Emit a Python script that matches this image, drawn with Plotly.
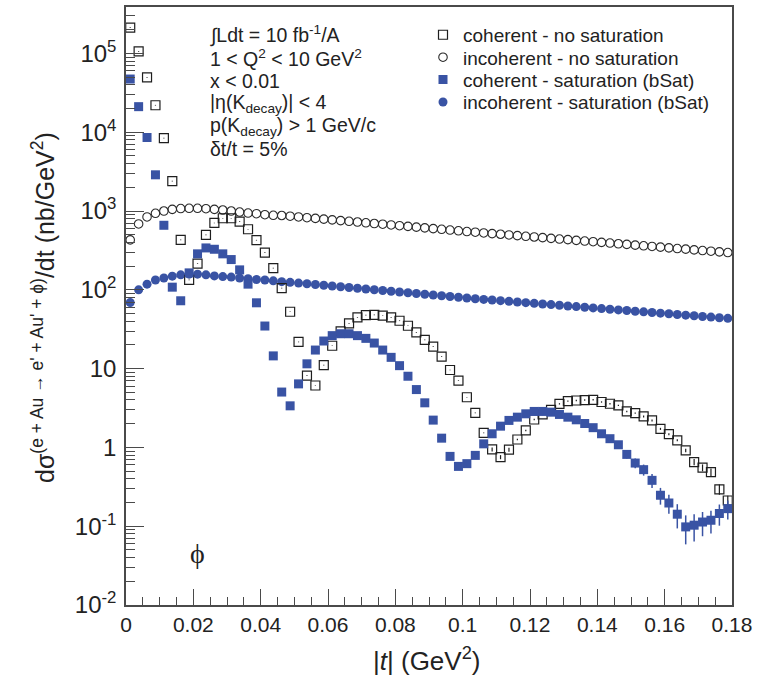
import plotly.graph_objects as go

# ---------------- data ----------------
t_bins = [0.00125, 0.00375, 0.00625, 0.00875, 0.01125, 0.01375, 0.01625, 0.01875,
          0.02125, 0.02375, 0.02625, 0.02875, 0.03125, 0.03375, 0.03625, 0.03875,
          0.04125, 0.04375, 0.04625, 0.04875, 0.05125, 0.05375, 0.05625, 0.05875,
          0.06125, 0.06375, 0.06625, 0.06875, 0.07125, 0.07375, 0.07625, 0.07875,
          0.08125, 0.08375, 0.08625, 0.08875, 0.09125, 0.09375, 0.09625, 0.09875,
          0.10125, 0.10375, 0.10625, 0.10875, 0.11125, 0.11375, 0.11625, 0.11875,
          0.12125, 0.12375, 0.12625, 0.12875, 0.13125, 0.13375, 0.13625, 0.13875,
          0.14125, 0.14375, 0.14625, 0.14875, 0.15125, 0.15375, 0.15625, 0.15875,
          0.16125, 0.16375, 0.16625, 0.16875, 0.17125, 0.17375, 0.17625, 0.17875]

coherent_nosat = [213000, 106000, 49700, 22000, 8400, 2400,
                  430, 134, 215, 497, 705, 809, 809, 732, 587, 426, 297, 188, 105, 52.7, 21.8, 8.15, 6.1,
                  11.1, 19.5, 29.7, 37.4, 44.6, 47.8, 48.2, 46.9, 44.6, 40.5, 35.0, 28.8, 23.1, 19.0,
                  14.2, 9.6, 7.05, 4.33, 2.75,
                  1.53, 0.944, 0.753, 0.935, 1.26, 1.64, 2.26, 2.62, 3.0, 3.57, 3.86, 3.94, 3.99, 4.02,
                  3.77, 3.58, 3.42, 2.86, 2.72, 2.47, 2.20, 1.72, 1.47, 1.23, 0.916, 0.652, 0.553, 0.487,
                  0.294, 0.212]
coherent_nosat_relerr = [0.01] * 43 + [0.06, 0.06, 0.06] + [0.02] * 15 + [0.03] * 5 + \
                        [0.05, 0.09, 0.10, 0.11, 0.15, 0.15]

incoherent_nosat = [430, 685, 840, 935, 1000, 1050, 1075, 1082, 1082, 1070,
                    1050, 1030, 1000, 970, 943, 924, 898, 883, 877, 859,
                    841, 823, 806, 789, 772, 756, 740, 725, 709, 694,
                    680, 665, 651, 638, 624, 611, 598, 586, 573, 561,
                    549, 538, 527, 517, 507, 497, 487, 478, 468, 459,
                    450, 441, 433, 424, 416, 408, 400, 392, 384, 377,
                    369, 362, 355, 348, 341, 334, 328, 321, 315, 309,
                    303, 297]

coherent_sat = [47300, 21100, 8570, 2880, 659, 108, 72.6, 164, 286, 340,
                327, 286, 242, 179, 118, 68.4, 34.7, 14.5, 5.04, 3.37,
                6.40, 11.5, 17.2, 22.4, 26.2, 27.7, 27.7, 26.2, 24.2, 21.1,
                17.2, 13.9, 10.9, 8.0, 5.42, 3.68, 2.22, 1.31, 0.769, 0.574,
                0.622, 0.792, 1.11, 1.49, 1.86, 2.20, 2.42, 2.67, 2.86, 2.86,
                2.80, 2.62, 2.42, 2.24, 2.01, 1.78, 1.49, 1.29, 1.08, 0.815,
                0.633, 0.522, 0.382, 0.247, 0.197, 0.142, 0.098, 0.103, 0.113, 0.119,
                0.145, 0.167]
coherent_sat_relerr = [0.02] * 38 + [0.05] * 4 + [0.02] * 14 + \
                      [0.06, 0.08, 0.09, 0.11, 0.14, 0.16, 0.20, 0.24, 0.27, 0.34,
                       0.40, 0.38, 0.34, 0.32, 0.30, 0.27]

incoherent_sat = [69, 100, 118, 133, 141, 149, 155, 158, 158, 155,
                  150, 147, 145, 141, 138, 135, 133, 130, 127, 124.5,
                  121.8, 119.2, 116.6, 114.1, 111.6, 109.2, 106.9, 104.6, 102.3, 100.1,
                  97.9, 95.8, 93.8, 91.7, 89.8, 87.8, 85.9, 84.1, 82.3, 80.5,
                  78.8, 77.1, 75.6, 74.2, 72.8, 71.4, 70.0, 68.7, 67.4, 66.1,
                  64.9, 63.6, 62.4, 61.2, 60.1, 58.9, 57.8, 56.7, 55.6, 54.6,
                  53.5, 52.5, 51.5, 50.5, 49.6, 48.6, 47.7, 46.8, 45.9, 45.1,
                  44.2, 43.4]

x_tickvals = [0, 0.02, 0.04, 0.06, 0.08, 0.1, 0.12, 0.14, 0.16, 0.18]
x_ticktext = ["0", "0.02", "0.04", "0.06", "0.08", "0.1", "0.12", "0.14", "0.16", "0.18"]
y_tickvals = [0.01, 0.1, 1, 10, 100, 1000, 1e4, 1e5]
y_ticktext = ["10<sup>-2</sup>", "10<sup>-1</sup>", "1", "10", "10<sup>2</sup>",
              "10<sup>3</sup>", "10<sup>4</sup>", "10<sup>5</sup>"]
y_minor = [m * 10 ** e for e in range(-2, 6) for m in range(2, 10)]

series_names = ["coherent - no saturation", "incoherent - no saturation",
                "coherent - saturation (bSat)", "incoherent - saturation (bSat)"]

info_lines = ["∫Ldt = 10 fb<sup>-1</sup>/A",
              "1 &lt; Q<sup>2</sup> &lt; 10 GeV<sup>2</sup>",
              "x &lt; 0.01",
              "|η(K<sub>decay</sub>)| &lt; 4",
              "p(K<sub>decay</sub>) &gt; 1 GeV/c",
              "δt/t = 5%"]

# ---------------- styling ----------------
BLUE = "#3953a4"
DARK = "#1e1e1e"
AXIS = "#4a4a4a"
FONT = "Liberation Sans"

L, R, T, B = 126, 26, 5, 73
W, H = 758, 678
PW, PH = W - L - R, H - T - B


def px_x(px):
    return (px - L) / PW


def px_y(py):
    return (H - B - py) / PH


fig = go.Figure()

fig.add_trace(go.Scatter(
    x=t_bins, y=incoherent_nosat, mode="markers", name=series_names[1], legend="legend2",
    marker=dict(symbol="circle-open", size=8.5, color="#2a2a2a", line=dict(width=1.1, color="#2a2a2a"))))
fig.add_trace(go.Scatter(
    x=t_bins, y=incoherent_sat, mode="markers", name=series_names[3], legend="legend4",
    marker=dict(symbol="circle", size=9, color=BLUE, line=dict(width=0))))
fig.add_trace(go.Scatter(
    x=t_bins, y=coherent_nosat, mode="markers", name=series_names[0], legend="legend",
    error_y=dict(type="data", array=[v * r for v, r in zip(coherent_nosat, coherent_nosat_relerr)],
                 color=DARK, thickness=1.2, width=0),
    marker=dict(symbol="square-open", size=9, color=DARK, line=dict(width=1.2, color=DARK))))
fig.add_trace(go.Scatter(
    x=t_bins, y=coherent_sat, mode="markers", name=series_names[2], legend="legend3",
    error_y=dict(type="data", array=[v * r for v, r in zip(coherent_sat, coherent_sat_relerr)],
                 color=BLUE, thickness=1.5, width=0),
    marker=dict(symbol="square", size=9, color=BLUE, line=dict(width=0))))

legend_rows = [33, 55.5, 78, 100.5]
leg_common = dict(xanchor="left", yanchor="middle", bgcolor="rgba(0,0,0,0)", borderwidth=0,
                  font=dict(family=FONT, size=19, color="#222"), itemwidth=30)
legends = {}
for k, key in enumerate(["legend", "legend2", "legend3", "legend4"]):
    legends[key] = dict(x=px_x(423), y=px_y(legend_rows[k]), **leg_common)

annotations = []
info_y = [33, 56, 79, 102, 125, 147]
for txt, yy in zip(info_lines, info_y):
    annotations.append(dict(text=txt, x=px_x(208), y=px_y(yy), xref="paper", yref="paper",
                            xanchor="left", yanchor="middle", showarrow=False, align="left",
                            font=dict(family=FONT, size=19.5, color="#222")))
annotations.append(dict(text="ϕ", x=px_x(197), y=px_y(553), xref="paper", yref="paper",
                        xanchor="center", yanchor="middle", showarrow=False,
                        font=dict(family="Liberation Serif", size=28, color="#222")))
annotations.append(dict(text="dσ<sup>(e + Au → e' + Au' + ϕ)</sup>/dt (nb/GeV<sup>2</sup>)",
                        x=px_x(43), y=px_y(307), xref="paper", yref="paper", textangle=-90,
                        xanchor="center", yanchor="middle", showarrow=False,
                        font=dict(family=FONT, size=25, color="#222")))
annotations.append(dict(text="|<i>t</i>| (GeV<sup>2</sup>)",
                        x=px_x(426), y=px_y(660), xref="paper", yref="paper",
                        xanchor="center", yanchor="middle", showarrow=False,
                        font=dict(family=FONT, size=26, color="#222")))

fig.update_layout(
    width=W, height=H, margin=dict(l=L, r=R, t=T, b=B, pad=0),
    paper_bgcolor="white", plot_bgcolor="white",
    showlegend=True, annotations=annotations, **legends,
    xaxis=dict(range=[0, 0.18], showline=True, linecolor=AXIS, linewidth=1.5, mirror=True,
               showgrid=False, zeroline=False, ticks="inside", ticklen=16, tickwidth=1.2,
               tickcolor=AXIS, tickvals=x_tickvals, ticktext=x_ticktext, ticklabelstandoff=0,
               tickfont=dict(family=FONT, size=21, color="#222"),
               minor=dict(ticks="inside", ticklen=8, tickwidth=1, tickcolor=AXIS,
                          dtick=0.005, tick0=0, showgrid=False)),
    yaxis=dict(type="log", range=[-2, 5.589], showline=True, linecolor=AXIS, linewidth=1.5,
               mirror=True, showgrid=False, zeroline=False, ticks="inside", ticklen=18,
               tickwidth=1.2, tickcolor=AXIS, tickvals=y_tickvals, ticktext=y_ticktext,
               ticklabelstandoff=3, tickfont=dict(family=FONT, size=24, color="#222"),
               minor=dict(ticks="inside", ticklen=9, tickwidth=1, tickcolor=AXIS,
                          tickmode="array", tickvals=y_minor, showgrid=False)),
)

fig.write_html("out.html", config={"displayModeBar": False},
               post_script="document.body.style.margin='0px';")
